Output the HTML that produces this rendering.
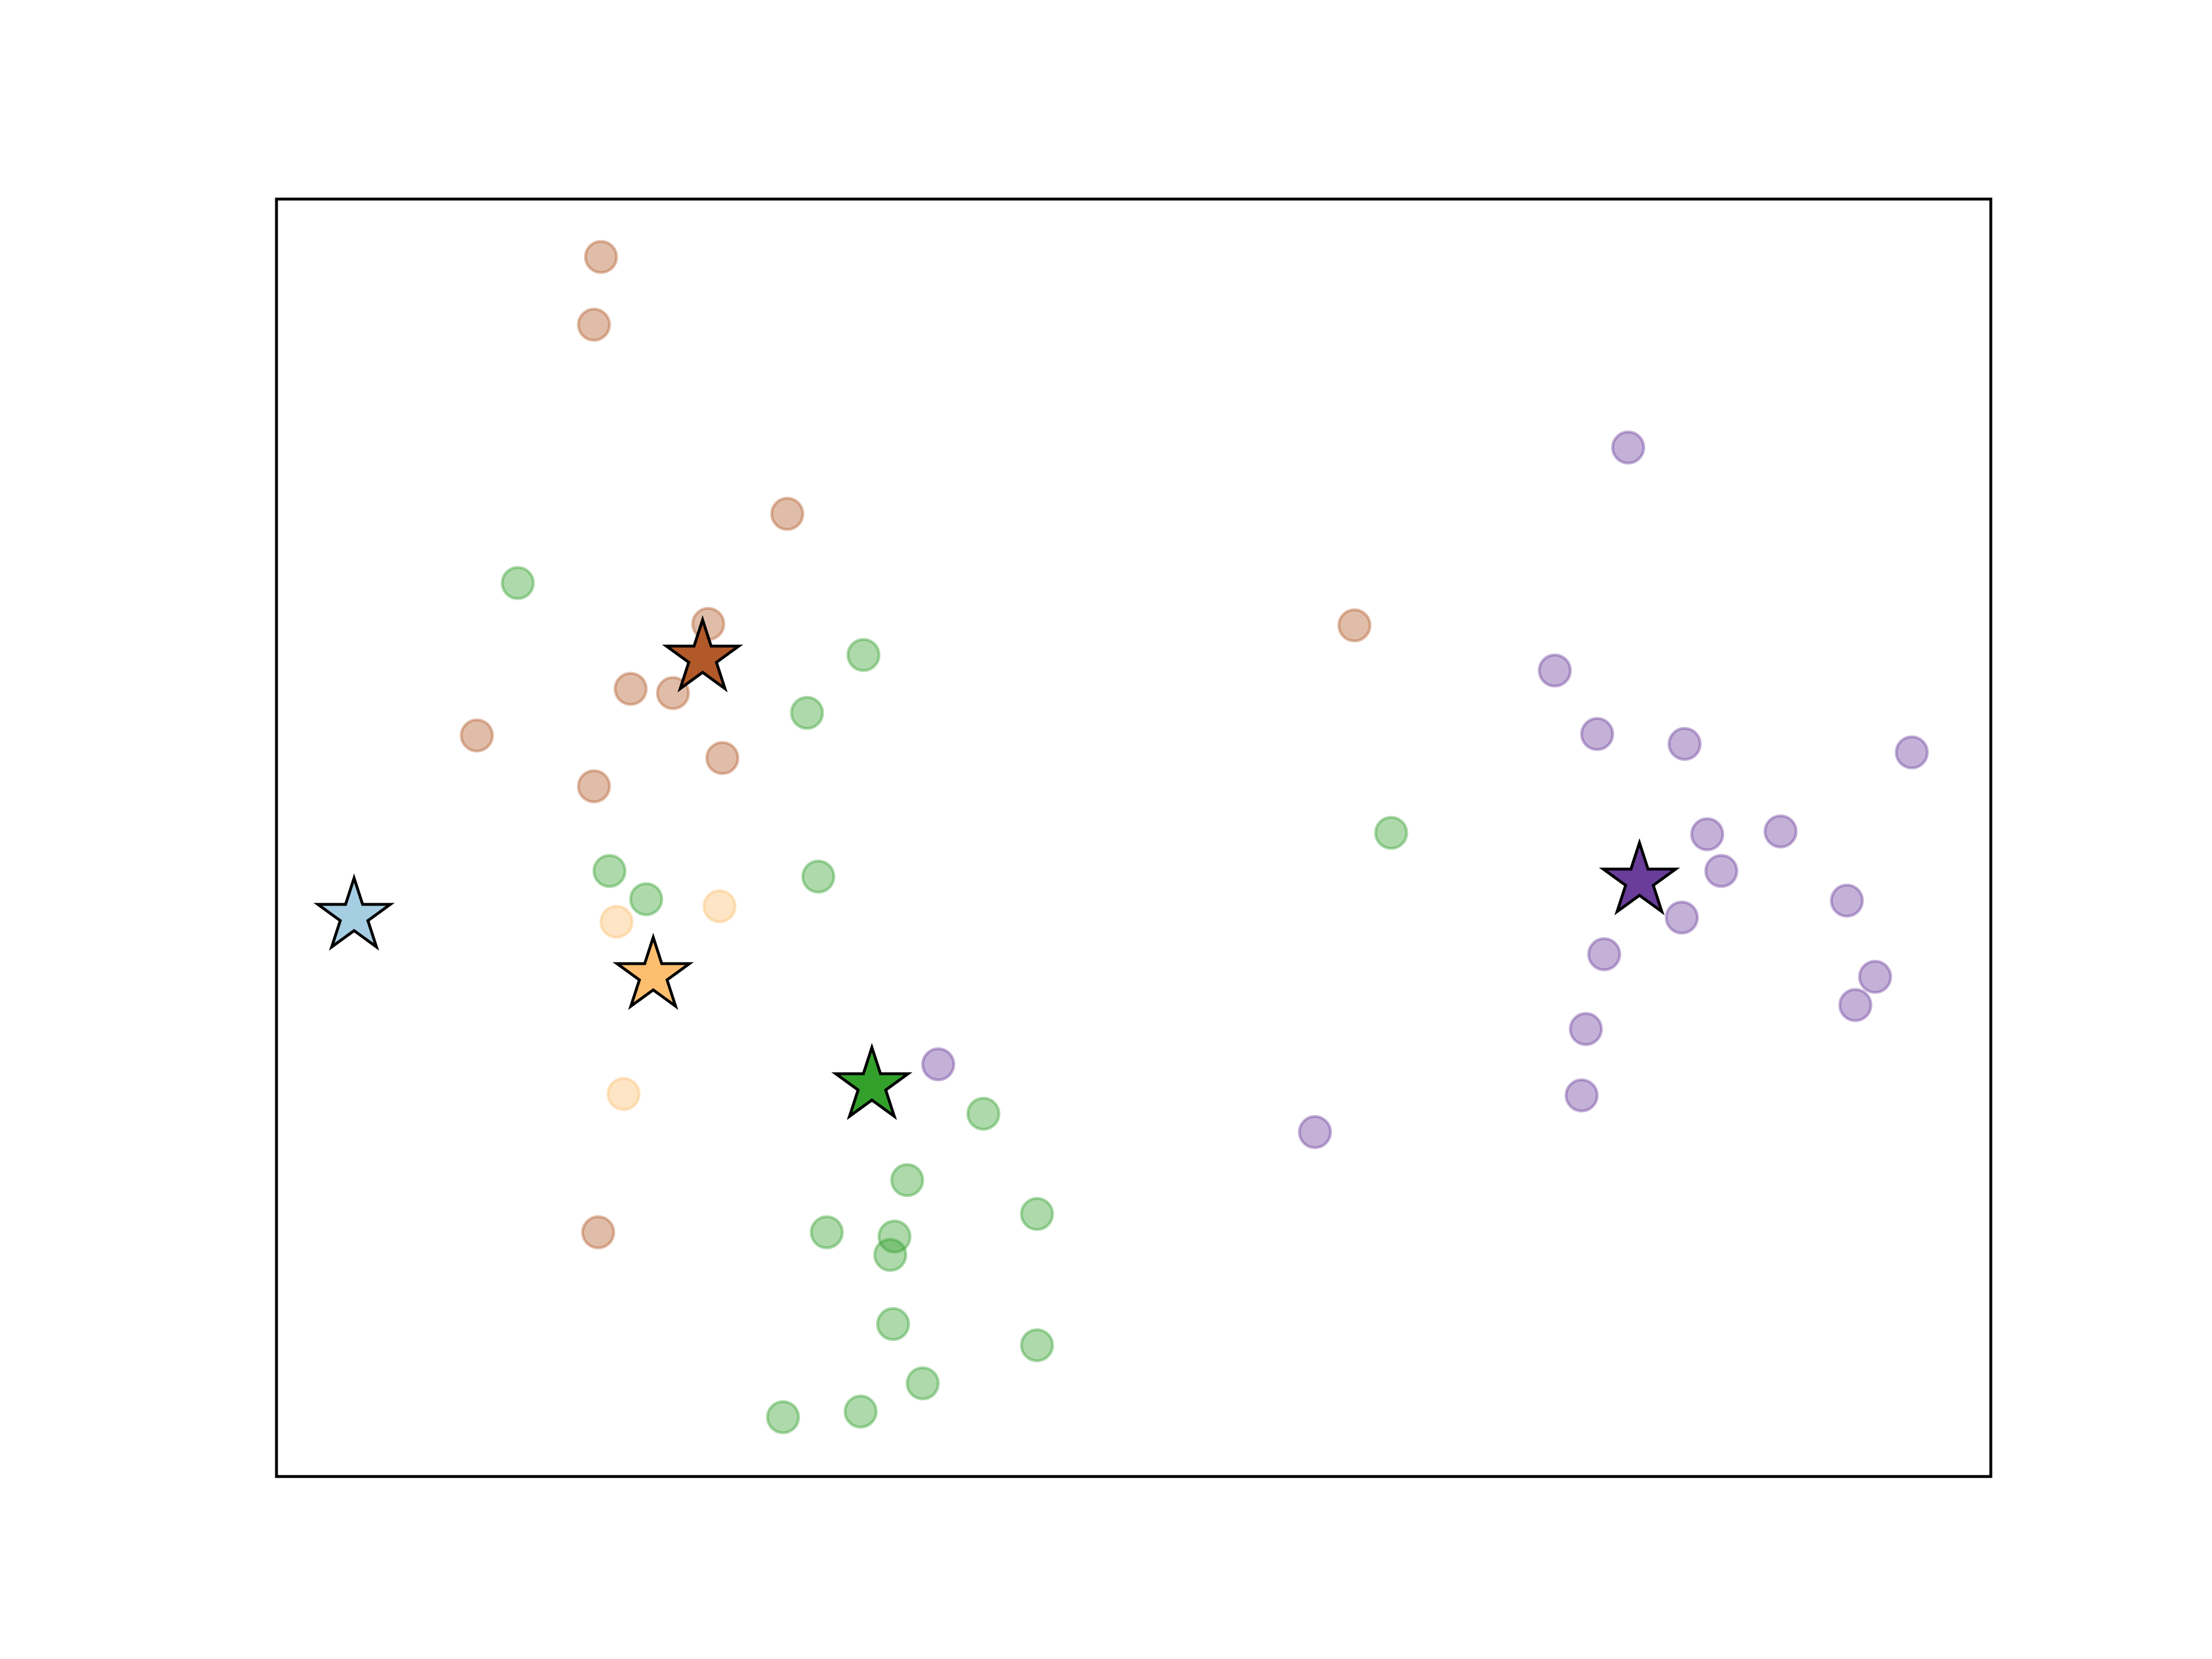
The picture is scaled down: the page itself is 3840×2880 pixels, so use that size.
<!DOCTYPE html>
<html>
<head>
<meta charset="utf-8">
<style>
html,body{margin:0;padding:0;background:#fff;}
svg{display:block;}
</style>
</head>
<body>
<svg id="chart" width="3840" height="2880" viewBox="0 0 3840 2880" xmlns="http://www.w3.org/2000/svg">
<rect x="0" y="0" width="3840" height="2880" fill="#ffffff"/>
<g id="points"></g>
<g id="stars"></g>
<rect x="480" y="345.6" width="2976" height="2217.6" fill="none" stroke="#000" stroke-width="5"/>
</svg>
<script>
// data values (arbitrary units, y increasing downward as read)
const brownX = [426,421,558,502,447,477,338,512,421,960,424];
const brownY = [182,230,364,442,488,491,521,537,557,443,873];
const greenX = [367,612,572,432,458,580,986,697,643,735,586,634,631,633,735,654,555,610];
const greenY = [413,464,505,617,637,621,590,789,836,860,873,876,889,938,953,980,1004,1000];
const orangeX = [437,510,442];
const orangeY = [653,642,775];
const purpleX = [1154,1102,1132,1194,1355,1210,1262,1220,1309,1192,1137,1329,1315,1124,1121,932,665];
const purpleY = [317,475,520,527,533,591,589,617,638,650,676,692,712,729,776,802,754];
const centroidNames = ['lightblue','brown','orange','green','purple'];
const centroidX = [251,498,463,618,1162];
const centroidY = [649,466,691,769,624];

const NS = 'http://www.w3.org/2000/svg';
const xDom = [196,1411], yDom = [141,1046];
const xRange = [480,3456], yRange = [345.6,2563.2];
function sx(v){return xRange[0]+(v-xDom[0])/(xDom[1]-xDom[0])*(xRange[1]-xRange[0]);}
function sy(v){return yRange[0]+(v-yDom[0])/(yDom[1]-yDom[0])*(yRange[1]-yRange[0]);}

const pts = document.getElementById('points');
function drawSeries(xs, ys, fill, stroke, name){
  for(let i=0;i<xs.length;i++){
    const c = document.createElementNS(NS,'circle');
    c.setAttribute('cx', sx(xs[i]));
    c.setAttribute('cy', sy(ys[i]));
    c.setAttribute('r', 27);
    c.setAttribute('fill', fill);
    c.setAttribute('fill-opacity', 0.4);
    c.setAttribute('stroke', stroke);
    c.setAttribute('stroke-opacity', 0.4);
    c.setAttribute('stroke-width', 5);
    
    
    pts.appendChild(c);
  }
}
drawSeries(brownX, brownY, '#b15928', '#b15928', 'brown-point');
drawSeries(greenX, greenY, '#33a02c', '#33a02c', 'green-point');
drawSeries(orangeX, orangeY, '#fdbf6f', '#fdbf6f', 'orange-point');
drawSeries(purpleX, purpleY, '#6a3d9a', '#6a3d9a', 'purple-point');

const starColors = ['#a6cee3','#b15928','#fdbf6f','#33a02c','#6a3d9a'];
const stars = document.getElementById('stars');
function starPath(cx, cy, R){
  const r = R*0.382; let d='';
  for(let k=0;k<10;k++){
    const a = -Math.PI/2 + k*Math.PI/5;
    const rr = k%2===0 ? R : r;
    d += (k===0?'M':'L') + (cx+rr*Math.cos(a)).toFixed(1)+','+(cy+rr*Math.sin(a)).toFixed(1);
  }
  return d+'Z';
}
for(let i=0;i<centroidX.length;i++){
  const p = document.createElementNS(NS,'path');
  p.setAttribute('d', starPath(sx(centroidX[i]), sy(centroidY[i]), 66));
  p.setAttribute('fill', starColors[i]);
  p.setAttribute('stroke', '#000');
  p.setAttribute('stroke-width', 5);
  p.setAttribute('stroke-linejoin', 'miter');
  
  
  stars.appendChild(p);
}
</script>
</body>
</html>
